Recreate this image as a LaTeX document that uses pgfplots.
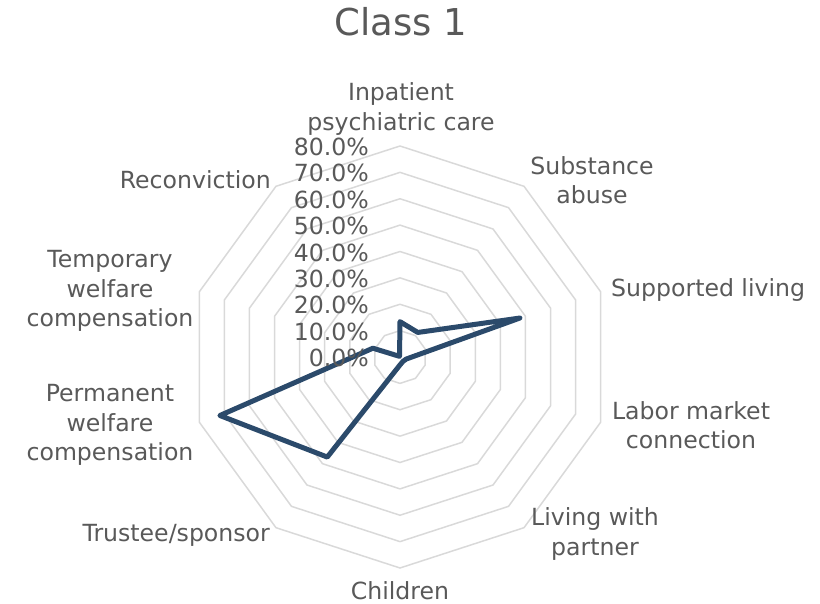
\documentclass[border=0pt]{standalone}
\usepackage{fontspec}
\setmainfont{DejaVu Sans}
\usepackage{pgfplots}
\pgfplotsset{compat=1.18}
\usepgfplotslibrary{polar}
\definecolor{txt}{HTML}{595959}
\definecolor{grd}{HTML}{D9D9D9}
\definecolor{ser}{HTML}{2B4A6B}
\begin{document}
\begin{tikzpicture}
\begin{polaraxis}[
  scale only axis, width=422pt, height=422pt,
  xmin=0, xmax=360, ymin=0, ymax=80,
  hide axis, clip=false,
]
\addplot[grd, line width=1.5pt, mark=none] coordinates {(90,10)(54,10)(18,10)(342,10)(306,10)(270,10)(234,10)(198,10)(162,10)(126,10)(90,10)};
\addplot[grd, line width=1.5pt, mark=none] coordinates {(90,20)(54,20)(18,20)(342,20)(306,20)(270,20)(234,20)(198,20)(162,20)(126,20)(90,20)};
\addplot[grd, line width=1.5pt, mark=none] coordinates {(90,30)(54,30)(18,30)(342,30)(306,30)(270,30)(234,30)(198,30)(162,30)(126,30)(90,30)};
\addplot[grd, line width=1.5pt, mark=none] coordinates {(90,40)(54,40)(18,40)(342,40)(306,40)(270,40)(234,40)(198,40)(162,40)(126,40)(90,40)};
\addplot[grd, line width=1.5pt, mark=none] coordinates {(90,50)(54,50)(18,50)(342,50)(306,50)(270,50)(234,50)(198,50)(162,50)(126,50)(90,50)};
\addplot[grd, line width=1.5pt, mark=none] coordinates {(90,60)(54,60)(18,60)(342,60)(306,60)(270,60)(234,60)(198,60)(162,60)(126,60)(90,60)};
\addplot[grd, line width=1.5pt, mark=none] coordinates {(90,70)(54,70)(18,70)(342,70)(306,70)(270,70)(234,70)(198,70)(162,70)(126,70)(90,70)};
\addplot[grd, line width=1.5pt, mark=none] coordinates {(90,80)(54,80)(18,80)(342,80)(306,80)(270,80)(234,80)(198,80)(162,80)(126,80)(90,80)};
% Class 1 series: Inpatient, Substance, Supported, Labor, Living w. partner, Children, Trustee, Permanent, Temporary, Reconviction
\addplot[ser, line width=5pt, line join=round, mark=none] coordinates {(90,13.4)(54,11.5)(18,47.8)(342,2.5)(306,2.0)(270,3.0)(234,46.9)(198,71.8)(162,10.8)(126,0.3)} -- cycle;
\coordinate (C) at (axis cs:0,0);
\end{polaraxis}
\path[use as bounding box] (C) ++(-400pt,357pt) rectangle ++(820pt,-604pt);
\begin{scope}[every node/.style={text=txt, inner sep=0pt, font=\fontsize{23.6}{29.5}\selectfont, align=center}]
\node[font=\fontsize{37}{44}\selectfont] at ([shift={(1pt,335pt)}]C) {Class 1};
\node at ([shift={(1pt,248pt)}]C) {Inpatient\\psychiatric care};
\node at ([shift={(192pt,177pt)}]C) {Substance\\abuse};
\node[anchor=west] at ([shift={(211pt,67pt)}]C) {Supported living};
\node at ([shift={(291pt,-68pt)}]C) {Labor market\\connection};
\node at ([shift={(195pt,-177pt)}]C) {Living with\\partner};
\node at ([shift={(0pt,-234pt)}]C) {Children};
\node[anchor=east] at ([shift={(-130pt,-178pt)}]C) {Trustee/sponsor};
\node at ([shift={(-290pt,-68pt)}]C) {Permanent\\welfare\\compensation};
\node at ([shift={(-290pt,66pt)}]C) {Temporary\\welfare\\compensation};
\node[anchor=east] at ([shift={(-129pt,177pt)}]C) {Reconviction};
\node[anchor=east] at ([shift={(-31pt,-1pt)}]C) {0.0\%};
\node[anchor=east] at ([shift={(-31pt,25.4pt)}]C) {10.0\%};
\node[anchor=east] at ([shift={(-31pt,51.8pt)}]C) {20.0\%};
\node[anchor=east] at ([shift={(-31pt,78.1pt)}]C) {30.0\%};
\node[anchor=east] at ([shift={(-31pt,104.5pt)}]C) {40.0\%};
\node[anchor=east] at ([shift={(-31pt,130.9pt)}]C) {50.0\%};
\node[anchor=east] at ([shift={(-31pt,157.3pt)}]C) {60.0\%};
\node[anchor=east] at ([shift={(-31pt,183.6pt)}]C) {70.0\%};
\node[anchor=east] at ([shift={(-31pt,210pt)}]C) {80.0\%};
\end{scope}
\end{tikzpicture}
\end{document}
